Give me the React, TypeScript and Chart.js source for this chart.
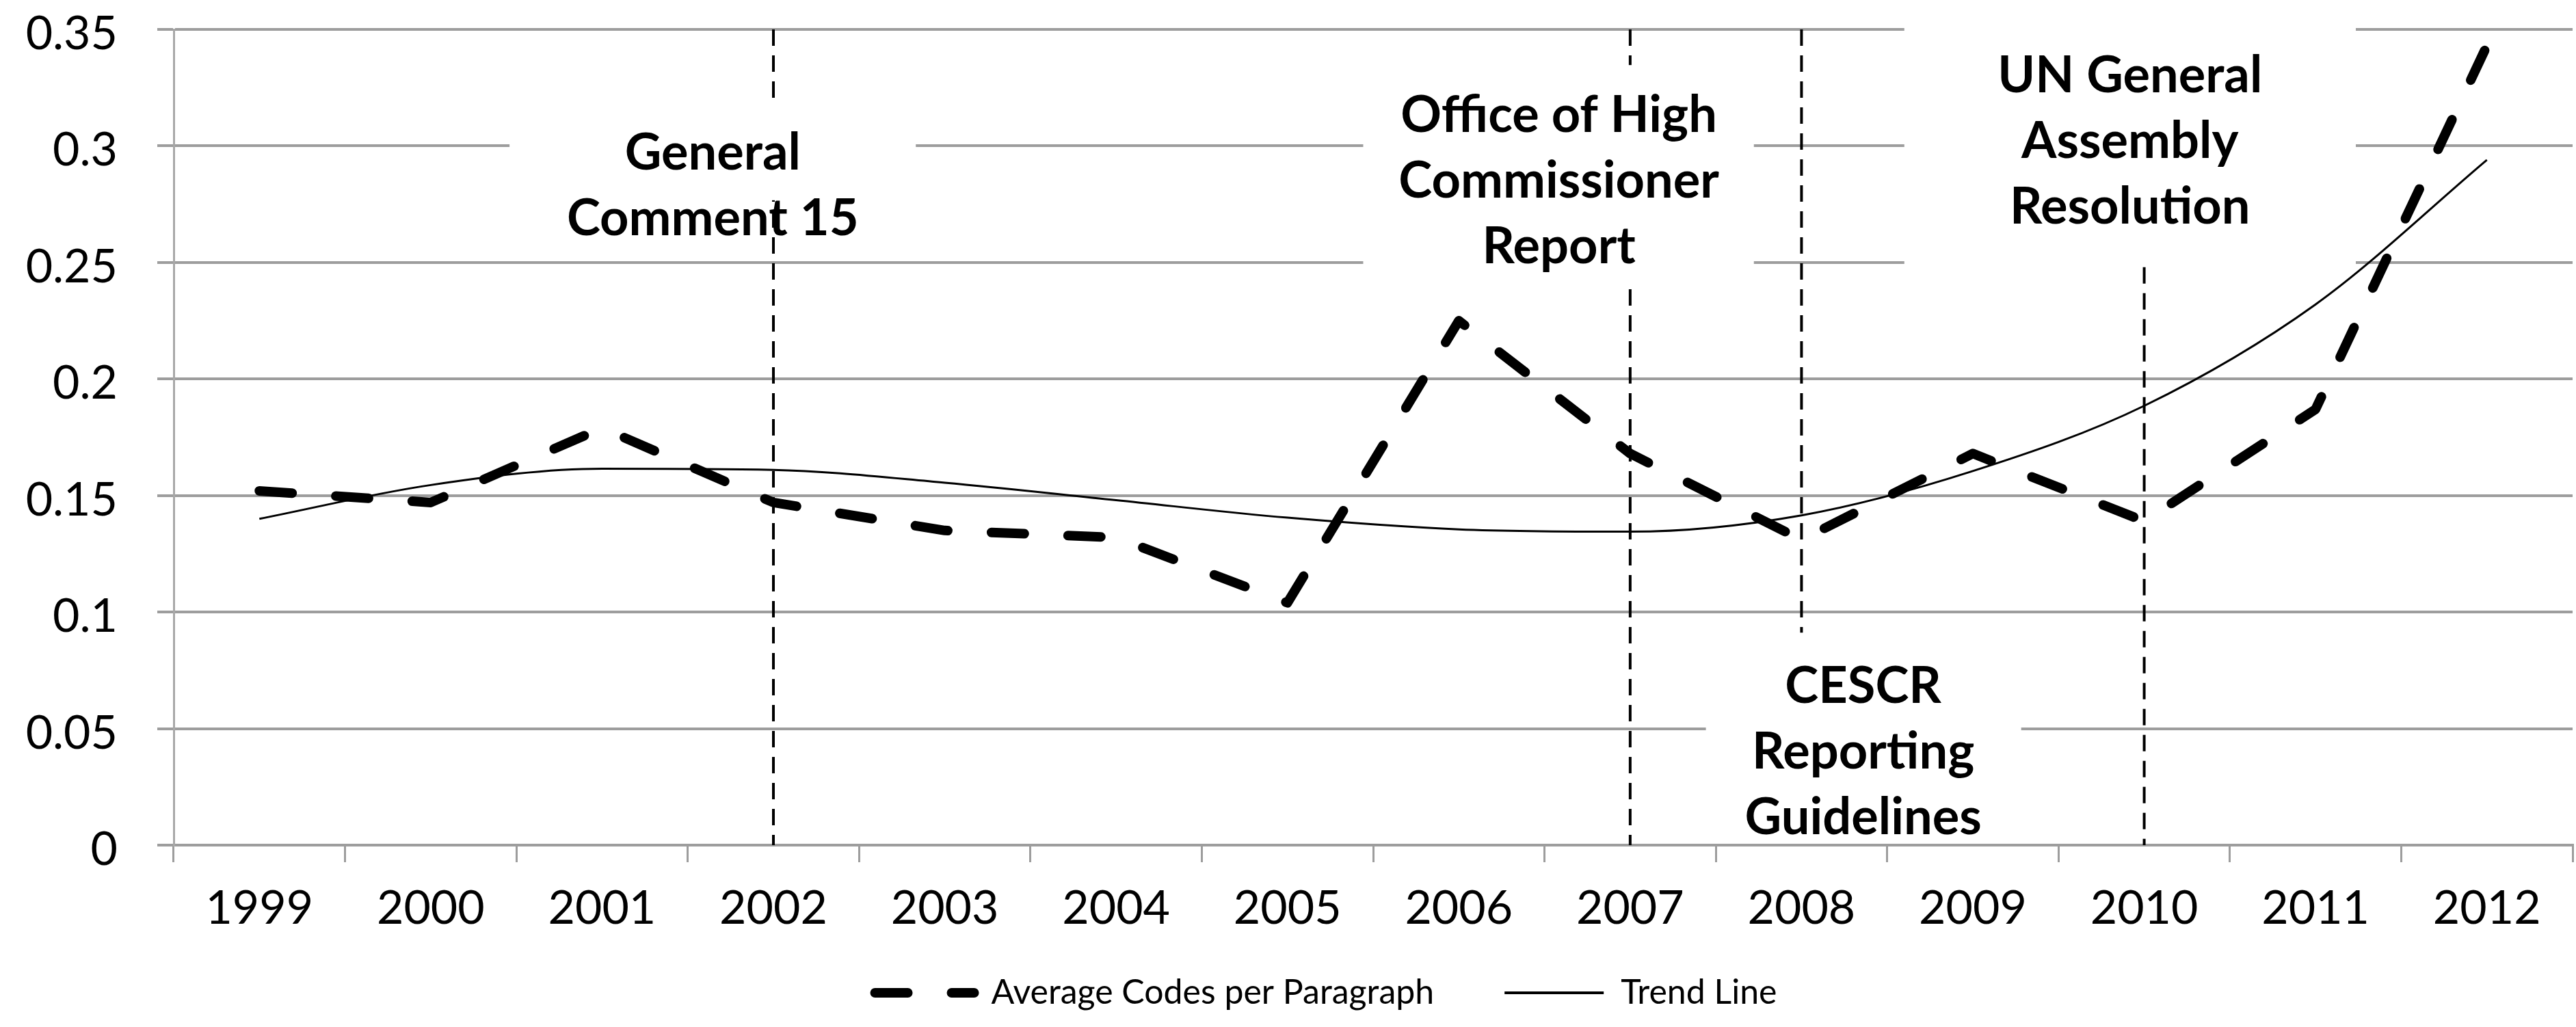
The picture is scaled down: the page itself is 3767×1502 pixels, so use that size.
import React, { useEffect, useRef } from 'react';
import { Chart, registerables } from 'chart.js';

Chart.register(...registerables);

// ---------- data ----------
const years = ['1999', '2000', '2001', '2002', '2003', '2004', '2005', '2006', '2007', '2008', '2009', '2010', '2011', '2012'];
const avgCodesPerParagraph = [0.152, 0.147, 0.179, 0.147, 0.135, 0.132, 0.104, 0.225, 0.168, 0.131, 0.168, 0.139, 0.187, 0.343];
const trendLine = [0.14, 0.1545, 0.1615, 0.161, 0.1555, 0.148, 0.1405, 0.1355, 0.1345, 0.1415, 0.1605, 0.1885, 0.232, 0.294];
const seriesNames = ['Average Codes per Paragraph', 'Trend Line'];
const yTickLabels = ['0', '0.05', '0.1', '0.15', '0.2', '0.25', '0.3', '0.35'];
const eventYears = ['2002', '2007', '2008', '2010'];
const eventLabels = [
  ['General', 'Comment 15'],
  ['Office of High', 'Commissioner', 'Report'],
  ['CESCR', 'Reporting', 'Guidelines'],
  ['UN General', 'Assembly', 'Resolution'],
];

// ---------- layout ----------
const W = 3767;
const H = 1502;
const PLOT_BOTTOM = 1236;
const PAD = { left: 0, right: 5, top: 43, bottom: -47 };
const GRID = '#9d9d9d';
const LEGEND_TOP = 1324;
const LEGEND_SHIFT_X = 58;

// per event: dashed line value range, white box [dxLeft, dxRight, yTop, yBottom] (category offsets / values),
// text centre offset (categories) and first baseline (value)
const eventLayout = [
  { lineFrom: 0.35, lineTo: 0, box: [-1.54, 0.831, 0.3186, 0.2767], textDx: -0.354, textTop: 0.2899 },
  { lineFrom: 0.35, lineTo: 0, box: [-1.558, 0.722, 0.3347, 0.2400], textDx: -0.416, textTop: 0.306 },
  { lineFrom: 0.35, lineTo: 0.0912, box: [-0.558, 1.282, 0.0892, 0.0023], textDx: 0.36, textTop: 0.061 },
  { lineFrom: 0.248, lineTo: 0, box: [-1.4, 1.235, 0.3553, 0.2482], textDx: -0.083, textTop: 0.323 },
];
const LINE_STEP = 96;

const eventsPlugin = {
  id: 'events',
  afterLayout(chart: any) {
    const L = chart.legend;
    if (!L) return;
    const dy = LEGEND_TOP - L.top;
    L.top += dy;
    L.bottom += dy;
    L.left += LEGEND_SHIFT_X;
    L.right += LEGEND_SHIFT_X;
  },
  beforeDatasetsDraw(chart: any) {
    const { ctx } = chart;
    const x = chart.scales.x;
    const y = chart.scales.y;
    ctx.save();
    eventYears.forEach((yr, k) => {
      const L = eventLayout[k];
      const i = years.indexOf(yr);
      const px = x.getPixelForValue(i);
      ctx.beginPath();
      ctx.setLineDash([24, 14]);
      ctx.lineWidth = 4;
      ctx.strokeStyle = '#000';
      ctx.moveTo(px, y.getPixelForValue(L.lineFrom));
      ctx.lineTo(px, y.getPixelForValue(L.lineTo));
      ctx.stroke();
    });
    ctx.setLineDash([]);
    ctx.fillStyle = '#fff';
    eventYears.forEach((yr, k) => {
      const L = eventLayout[k];
      const i = years.indexOf(yr);
      const x0 = x.getPixelForValue(i + L.box[0]);
      const x1 = x.getPixelForValue(i + L.box[1]);
      const y0 = y.getPixelForValue(L.box[2]);
      const y1 = y.getPixelForValue(L.box[3]);
      ctx.fillRect(x0, y0, x1 - x0, y1 - y0);
    });
    ctx.fillStyle = '#000';
    ctx.font = 'bold 74px Lato';
    ctx.textAlign = 'center';
    ctx.textBaseline = 'alphabetic';
    eventYears.forEach((yr, k) => {
      const L = eventLayout[k];
      const i = years.indexOf(yr);
      const cx = x.getPixelForValue(i + L.textDx);
      const by = y.getPixelForValue(L.textTop);
      eventLabels[k].forEach((line, j) => ctx.fillText(line, cx, by + j * LINE_STEP));
    });
    ctx.restore();
  },
};

export default function App() {
  const ref = useRef<HTMLCanvasElement>(null);
  useEffect(() => {
    document.body.style.margin = '0';
    Chart.defaults.font.family = 'Lato';
    const chart = new Chart(ref.current as HTMLCanvasElement, {
      type: 'line',
      data: {
        labels: years,
        datasets: [
          {
            label: seriesNames[0],
            data: avgCodesPerParagraph,
            borderColor: '#000',
            backgroundColor: '#000',
            borderWidth: 14,
            borderDash: [48, 64],
            borderCapStyle: 'round',
            borderJoinStyle: 'round',
            pointRadius: 0,
            tension: 0,
            fill: false,
          },
          {
            label: seriesNames[1],
            data: trendLine,
            borderColor: '#000',
            backgroundColor: '#000',
            borderWidth: 3,
            pointRadius: 0,
            cubicInterpolationMode: 'monotone',
            fill: false,
          },
        ],
      },
      options: {
        animation: false,
        responsive: false,
        devicePixelRatio: 1,
        layout: { padding: PAD },
        plugins: {
          tooltip: { enabled: false },
          title: { display: false },
          legend: {
            display: true,
            position: 'bottom',
            labels: {
              color: '#000',
              font: { family: 'Lato', size: 50 },
              usePointStyle: true,
              pointStyle: 'line',
              pointStyleWidth: 145,
              padding: 103,
              generateLabels: (c: any) =>
                c.data.datasets.map((ds: any, i: number) => ({
                  text: ds.label,
                  fillStyle: 'rgba(0,0,0,0)',
                  strokeStyle: '#000',
                  fontColor: '#000',
                  lineWidth: i === 0 ? ds.borderWidth : 4,
                  lineDash: ds.borderDash || [],
                  lineDashOffset: 0,
                  lineCap: ds.borderCapStyle || 'butt',
                  lineJoin: 'round',
                  pointStyle: 'line',
                  hidden: false,
                  datasetIndex: i,
                })),
            },
          },
        },
        scales: {
          x: {
            type: 'category',
            offset: true,
            grid: {
              display: true,
              offset: true,
              drawOnChartArea: false,
              drawTicks: true,
              tickLength: 25,
              color: GRID,
              lineWidth: 3,
            },
            border: { display: true, color: GRID, width: 4 },
            ticks: {
              color: '#000',
              font: { family: 'Lato', size: 68 },
              padding: 27,
              maxRotation: 0,
              autoSkip: false,
            },
            afterFit: (s: any) => {
              const lh = s.chart.legend ? s.chart.legend.height : 163;
              s.height = Math.max(10, H - PAD.bottom - lh - PLOT_BOTTOM);
              s.paddingLeft = 0;
              s.paddingRight = 0;
            },
          },
          y: {
            min: 0,
            max: 0.35,
            ticks: {
              stepSize: 0.05,
              color: '#000',
              font: { family: 'Lato', size: 68 },
              padding: 58,
              labelOffset: 7,
              callback: (v: any) => {
                const f = yTickLabels.find((l) => Math.abs(parseFloat(l) - Number(v)) < 1e-9);
                return f === undefined ? '' : f;
              },
            },
            grid: { color: GRID, lineWidth: 4, tickLength: 24, drawTicks: true },
            border: { display: true, color: '#a8a8a8', width: 3 },
            afterFit: (s: any) => {
              s.width = 254 - PAD.left;
              s.paddingTop = 0;
              s.paddingBottom = 0;
            },
          },
        },
      },
      plugins: [eventsPlugin],
    } as any);
    return () => chart.destroy();
  }, []);
  return (
    <div style={{ position: 'absolute', left: 0, top: 0, width: W, height: H, background: '#fff' }}>
      <canvas ref={ref} width={W} height={H} style={{ width: W, height: H, display: 'block' }} />
    </div>
  );
}
